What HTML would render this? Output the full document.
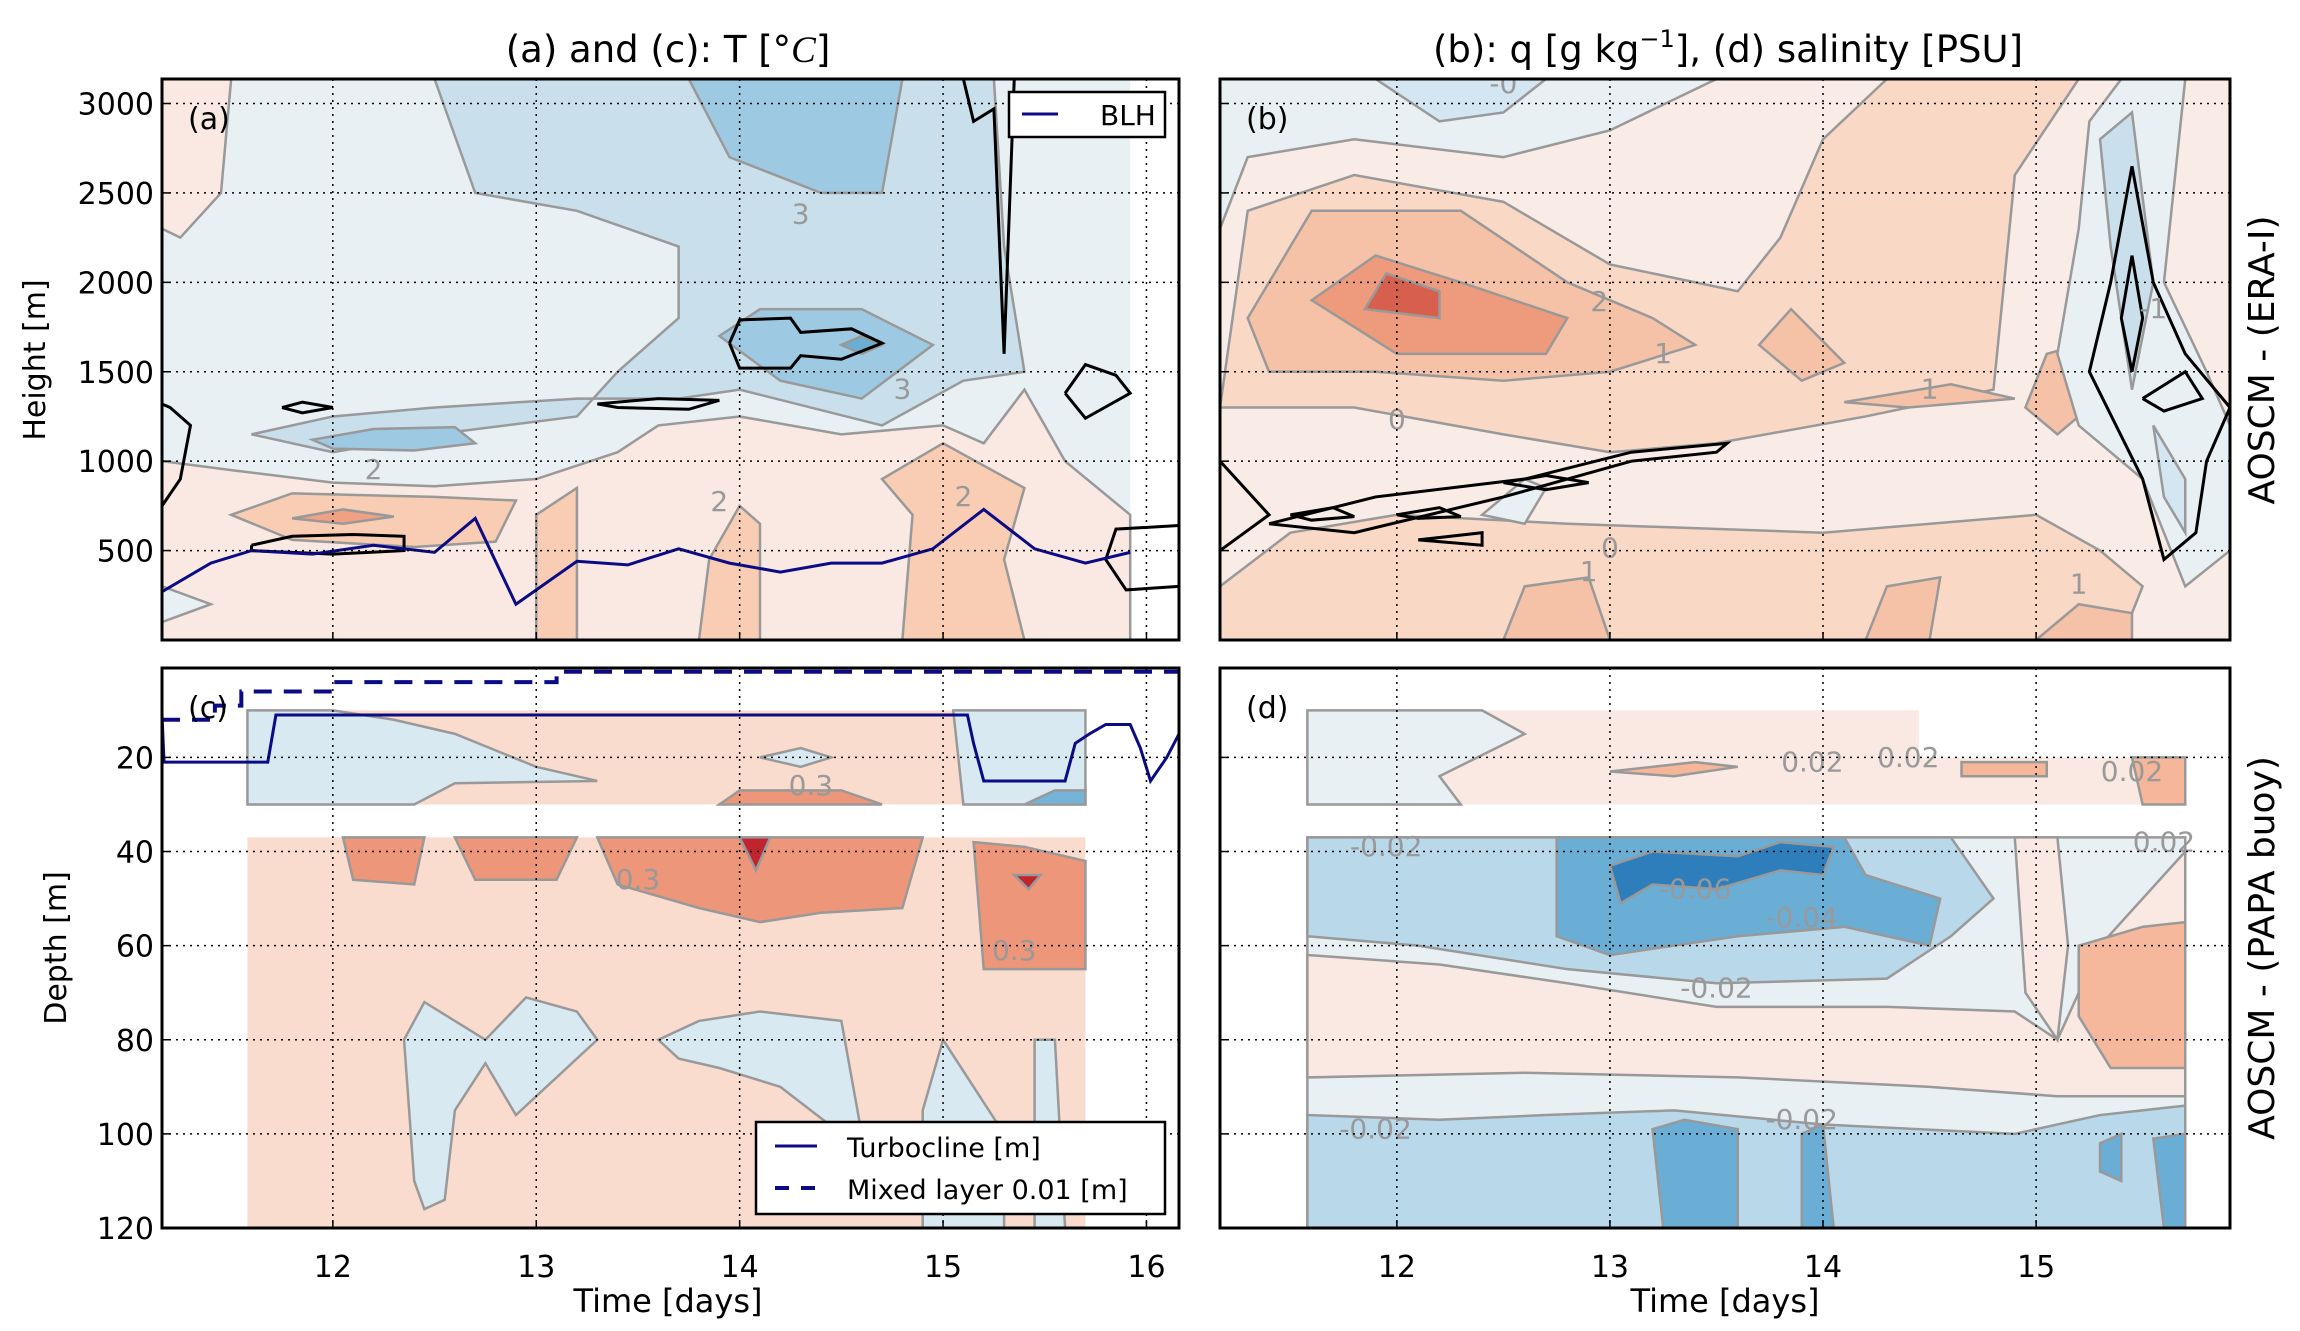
<!DOCTYPE html>
<html><head><meta charset="utf-8"><style>
html,body{margin:0;padding:0;background:#fff}
svg{display:block}
text{font-family:"DejaVu Sans","Liberation Sans",sans-serif}
</style></head><body>
<svg id="fig" width="2300" height="1331" viewBox="0 0 2300 1331" xmlns="http://www.w3.org/2000/svg">
<text x="668" y="62" font-size="37" text-anchor="middle">(a) and (c): T [°<tspan font-style="italic" font-family="Liberation Serif">C</tspan>]</text>
<text x="1728" y="62" font-size="37" text-anchor="middle">(b): q [g kg<tspan font-size="24" dy="-15">−1</tspan><tspan dy="15">], (d) salinity [PSU]</tspan></text>
<text transform="translate(2274,360) rotate(-90)" font-size="36" text-anchor="middle">AOSCM - (ERA-I)</text>
<text transform="translate(2274,948) rotate(-90)" font-size="36" text-anchor="middle">AOSCM - (PAPA buoy)</text>
<text transform="translate(45,360) rotate(-90)" font-size="30" text-anchor="middle">Height [m]</text>
<text transform="translate(66,948) rotate(-90)" font-size="30" text-anchor="middle">Depth [m]</text>
<text x="668" y="1312" font-size="32" text-anchor="middle">Time [days]</text>
<text x="1725" y="1312" font-size="32" text-anchor="middle">Time [days]</text>
<g id="layers"></g>
</svg>
<script>
// ---- data (days, metres) ----
const xTicksLeft=[12,13,14,15,16];
const xTicksRight=[12,13,14,15];
const hTicks=[500,1000,1500,2000,2500,3000];
const dTicks=[20,40,60,80,100,120];
const aFills=[
 ["#e8f0f4",[[11.16,0],[11.16,3137],[15.92,3137],[15.92,0]]],
 ["#f9e9e2",[[11.16,0],[11.16,1000],[11.5,950],[12,880],[12.5,860],[13,900],[13.4,1050],[13.6,1200],[14,1250],[14.5,1150],[15,1200],[15.2,1100],[15.4,1400],[15.6,1000],[15.92,700],[15.92,0]]],
 ["#f9e9e2",[[11.16,1500],[11.16,3137],[11.5,3137],[11.45,2500],[11.25,2250],[11.16,2300]]],
 ["#e8f0f4",[[11.16,0],[11.16,100],[11.4,200],[11.16,300]]],
 ["#c9e0ec",[[12.5,3137],[12.7,2500],[13.2,2400],[13.7,2200],[13.7,1800],[13.4,1500],[13.2,1250],[12.5,1150],[12,1050],[11.6,1150],[12,1250],[12.5,1300],[13.2,1350],[13.7,1350],[14,1400],[14.7,1200],[15.1,1450],[15.4,1500],[15.3,2200],[15.25,3137]]],
 ["#9dcae2",[[13.75,3137],[13.95,2700],[14.4,2500],[14.7,2500],[14.8,3137]]],
 ["#9dcae2",[[13.9,1700],[14.1,1850],[14.6,1850],[14.95,1650],[14.6,1350],[14.2,1450]]],
 ["#9dcae2",[[11.9,1120],[12.2,1180],[12.6,1190],[12.7,1100],[12.4,1060],[12,1070]]],
 ["#6aaed6",[[14.5,1650],[14.6,1700],[14.7,1650],[14.6,1600]]],
 ["#f8cdb4",[[11.5,700],[11.8,820],[12.5,800],[12.9,780],[12.8,550],[12.4,520],[11.8,560]]],
 ["#f8cdb4",[[13.0,0],[13.0,700],[13.2,850],[13.2,0]]],
 ["#f8cdb4",[[13.8,0],[13.85,450],[14.0,750],[14.1,650],[14.1,0]]],
 ["#f8cdb4",[[14.8,0],[14.85,700],[14.7,900],[15.0,1100],[15.4,850],[15.3,450],[15.4,0]]],
 ["#f0a083",[[11.8,680],[12.05,730],[12.3,690],[12.05,650]]]
];
const aBlack=[
 [[11.75,1300],[11.85,1330],[12.0,1300],[11.85,1270],[11.75,1300]],
 [[13.3,1320],[13.6,1350],[13.9,1340],[13.75,1290],[13.4,1300],[13.3,1320]],
 [[13.95,1660],[14.0,1790],[14.25,1800],[14.3,1720],[14.55,1740],[14.7,1660],[14.5,1570],[14.3,1590],[14.25,1520],[14.0,1520],[13.95,1660]],
 [[11.6,530],[11.8,580],[12.1,590],[12.35,580],[12.35,500],[12.0,480],[11.6,500],[11.6,530]],
 [[15.1,3137],[15.15,2900],[15.25,2970],[15.3,1600],[15.35,3137]],
 [[15.6,1380],[15.7,1540],[15.85,1480],[15.92,1380],[15.7,1240],[15.6,1380]],
 [[16.16,300],[15.9,280],[15.8,450],[15.85,620],[16.16,640]],
 [[11.16,750],[11.25,900],[11.3,1200],[11.2,1300],[11.16,1320]]
];
const blhX=[11.16,11.4,11.6,11.9,12.2,12.5,12.7,12.9,13.2,13.45,13.7,13.95,14.2,14.45,14.7,14.95,15.2,15.45,15.7,15.92];
const blhY=[270,430,500,480,530,490,680,200,440,420,510,430,380,430,430,510,730,510,430,490];
const cFills=[
 ["#fadcce",[[11.58,37],[11.58,120],[15.7,120],[15.7,37]]],
 ["#fadcce",[[11.58,10],[11.58,30],[15.7,30],[15.7,10]]],
 ["#d9e9f2",[[11.58,10],[11.58,30],[12.4,30],[12.6,25.5],[13.3,25],[13.0,22],[12.6,15],[12.3,12],[12.0,10]]],
 ["#d9e9f2",[[15.05,10],[15.1,30],[15.7,30],[15.7,10]]],
 ["#d9e9f2",[[14.1,20],[14.3,18],[14.45,20],[14.3,22]]],
 ["#ed9679",[[12.05,37],[12.1,46],[12.4,47],[12.45,37]]],
 ["#ed9679",[[12.6,37],[12.7,46],[13.1,46],[13.2,37]]],
 ["#ed9679",[[13.3,37],[13.4,47],[13.8,52],[14.1,55],[14.4,53],[14.8,52],[14.9,37]]],
 ["#ed9679",[[13.9,30],[14.0,27],[14.5,27],[14.7,30]]],
 ["#ed9679",[[15.15,38],[15.2,65],[15.7,65],[15.7,42],[15.4,39]]],
 ["#c0242e",[[14.0,37],[14.08,44],[14.15,37]]],
 ["#c0242e",[[15.35,45],[15.42,48],[15.48,45]]],
 ["#d9e9f2",[[12.35,80],[12.45,72],[12.75,80],[12.95,71],[13.2,74],[13.3,80],[13.05,90],[12.9,96],[12.75,85],[12.6,95],[12.55,114],[12.45,116],[12.4,110]]],
 ["#d9e9f2",[[13.6,80],[13.8,76],[14.1,74],[14.5,76],[14.6,100],[14.5,100],[14.2,90],[13.9,86],[13.7,84]]],
 ["#d9e9f2",[[14.9,95],[15.0,80],[15.15,90],[15.3,100],[15.3,120],[14.9,120]]],
 ["#d9e9f2",[[15.45,80],[15.55,80],[15.6,120],[15.45,120]]],
 ["#74b4d8",[[15.4,30],[15.55,27],[15.7,27],[15.7,30]]]
];
const turbX=[11.16,11.17,11.68,11.72,15.12,15.15,15.2,15.6,15.65,15.72,15.8,15.92,15.97,16.02,16.1,16.16];
const turbY=[11,21,21,11,11,17,25,25,17,15,13,13,18,25,20,15];
const mixX=[11.16,11.42,11.42,11.55,11.55,12.0,12.0,13.1,13.1,16.16];
const mixY=[12,12,9,9,6,6,4,4,1.8,1.8];
const bFills=[
 ["#f9ebe5",[[11.17,0],[11.17,3137],[15.91,3137],[15.91,0]]],
 ["#e8f0f4",[[11.17,2300],[11.17,3137],[13.5,3137],[13.0,2850],[12.5,2700],[11.8,2800],[11.3,2700]]],
 ["#d3e6f1",[[11.9,3137],[12.2,2900],[12.5,2950],[12.7,3137]]],
 ["#f9d8c6",[[11.17,1300],[11.3,2400],[11.8,2600],[12.5,2450],[13.0,2100],[13.6,1950],[13.8,2250],[14.0,2800],[14.3,3137],[15.2,3137],[14.9,2600],[14.8,1400],[14.2,1250],[13.5,1100],[13.0,1050],[12.5,1150],[11.8,1300]]],
 ["#f9d8c6",[[11.5,600],[12.0,700],[12.8,650],[14.0,600],[15.0,700],[15.3,500],[15.5,300],[15.4,0],[11.17,0],[11.17,300]]],
 ["#f6c2a7",[[11.3,1800],[11.6,2400],[12.3,2400],[12.8,2000],[13.2,1800],[13.4,1650],[13.0,1500],[12.5,1450],[11.9,1500],[11.4,1500]]],
 ["#f6c2a7",[[13.7,1650],[13.85,1850],[14.1,1550],[13.9,1450]]],
 ["#f6c2a7",[[14.1,1330],[14.6,1430],[14.9,1350],[14.4,1300]]],
 ["#f6c2a7",[[14.95,1300],[15.05,1600],[15.2,1650],[15.25,1300],[15.1,1150]]],
 ["#f6c2a7",[[12.5,0],[12.6,300],[12.9,350],[13.0,0]]],
 ["#f6c2a7",[[14.2,0],[14.3,300],[14.55,350],[14.5,0]]],
 ["#f6c2a7",[[15.0,0],[15.2,200],[15.45,150],[15.45,0]]],
 ["#ee9a7c",[[11.6,1900],[11.9,2150],[12.3,2000],[12.8,1800],[12.7,1600],[12.0,1600]]],
 ["#d6604d",[[11.85,1850],[11.95,2050],[12.2,1950],[12.2,1800]]],
 ["#e8f0f4",[[15.25,2900],[15.4,3137],[15.7,3137],[15.6,2000],[15.8,1500],[15.91,1200],[15.91,500],[15.7,300],[15.5,900],[15.2,1200],[15.1,1600],[15.2,2300]]],
 ["#c9e0ec",[[15.3,2800],[15.45,2950],[15.55,2000],[15.45,1400],[15.35,2200]]],
 ["#d3e6f1",[[15.55,1200],[15.7,900],[15.7,600],[15.6,800]]],
 ["#e8f0f4",[[12.4,700],[12.6,900],[12.7,850],[12.6,650]]]
];
const bBlack=[
 [[11.17,1000],[11.4,700],[11.17,500]],
 [[11.4,650],[11.9,800],[12.6,900],[13.1,1050],[13.55,1100],[13.5,1050],[13.1,1000],[12.5,800],[11.8,600],[11.4,650]],
 [[11.5,700],[11.7,740],[11.8,690],[11.6,670],[11.5,700]],
 [[12.0,700],[12.2,740],[12.3,690],[12.1,680],[12.0,700]],
 [[12.5,880],[12.7,920],[12.9,880],[12.7,840],[12.5,880]],
 [[12.1,560],[12.4,600],[12.4,530],[12.1,560]],
 [[15.45,2650],[15.35,2000],[15.25,1500],[15.5,900],[15.6,450],[15.75,600],[15.8,1000],[15.91,1300],[15.7,1600],[15.55,2000],[15.45,2650]],
 [[15.45,2150],[15.4,1800],[15.45,1500],[15.5,1800],[15.45,2150]],
 [[15.5,1350],[15.7,1500],[15.78,1350],[15.6,1280],[15.5,1350]]
];
const dFills=[
 ["#f9e9e2",[[11.58,10],[11.58,30],[15.7,30],[15.7,20],[14.45,20],[14.45,10]]],
 ["#e8f0f4",[[11.58,10],[11.58,30],[12.3,30],[12.2,24],[12.6,15],[12.4,10]]],
 ["#f5b699",[[13.0,23],[13.4,21],[13.6,22],[13.3,24]]],
 ["#f5b699",[[14.65,21],[15.05,21],[15.05,24],[14.65,24]]],
 ["#f5b699",[[15.45,20],[15.7,20],[15.7,30],[15.5,30]]],
 ["#e8f0f4",[[11.58,37],[11.58,120],[15.7,120],[15.7,37]]],
 ["#f9e9e2",[[11.58,62],[12.2,64],[12.8,68],[13.5,73],[14.3,73],[14.9,74],[15.1,80],[15.3,60],[15.7,40],[15.7,92],[15.1,92],[14.5,90],[13.6,88],[12.6,87],[11.58,88]]],
 ["#f9e9e2",[[14.9,37],[15.1,37],[15.15,60],[15.1,80],[14.95,70]]],
 ["#f6b89c",[[15.2,60],[15.5,56],[15.7,55],[15.7,86],[15.35,86],[15.2,75]]],
 ["#b9d8ea",[[11.58,37],[11.58,58],[12.1,60],[12.8,65],[13.5,68],[14.3,67],[14.6,58],[14.8,50],[14.6,37]]],
 ["#b9d8ea",[[11.58,96],[11.58,120],[15.7,120],[15.7,94],[15.3,96],[14.9,100],[14.0,98],[13.3,95],[12.7,96],[12.2,97]]],
 ["#6aaed6",[[12.75,37],[12.75,58],[13.0,62],[13.6,58],[14.1,56],[14.5,60],[14.55,50],[14.2,45],[14.1,37]]],
 ["#6aaed6",[[13.2,99],[13.35,97],[13.6,99],[13.6,120],[13.25,120]]],
 ["#6aaed6",[[13.9,100],[14.0,98],[14.05,120],[13.9,120]]],
 ["#6aaed6",[[15.55,101],[15.7,100],[15.7,120],[15.6,120]]],
 ["#6aaed6",[[15.3,102],[15.4,100],[15.4,110],[15.3,108]]],
 ["#2f7ebc",[[13.0,43],[13.2,40],[13.6,41],[13.8,38],[14.05,39],[14.0,45],[13.8,44],[13.5,48],[13.2,47],[13.05,51]]]
];
const cLabels=[[14.35,28,"0.3"],[13.5,48,"0.3"],[15.35,63,"0.3"]];
const dLabels=[[11.95,41,"-0.02"],[13.4,50,"-0.06"],[13.9,56,"-0.04"],[13.5,71,"-0.02"],[11.9,101,"-0.02"],[13.9,99,"-0.02"],[13.95,23,"0.02"],[14.4,22,"0.02"],[15.45,25,"0.02"],[15.6,40,"0.02"]];
const aLabels=[[14.3,2330,"3"],[14.8,1350,"3"],[12.2,900,"2"],[13.9,720,"2"],[15.1,750,"2"]];
const bLabels=[[12.5,3060,"-0"],[12.95,1840,"2"],[13.25,1550,"1"],[14.5,1350,"1"],[12.0,1180,"0"],[13.0,460,"0"],[12.9,330,"1"],[15.2,260,"1"],[15.55,1800,"-1"]];

const NS="http://www.w3.org/2000/svg";
const root=document.getElementById('layers');
function el(tag,attrs,parent){const e=document.createElementNS(NS,tag);for(const k in attrs)e.setAttribute(k,attrs[k]);(parent||root).appendChild(e);return e;}
function panel(name,x0,x1,d0,d1,px0,px1,py0,py1,yDown){
  const sx=d=>px0+(d-x0)/(x1-x0)*(px1-px0);
  const sy=v=> yDown? py0+(v-d0)/(d1-d0)*(py1-py0) : py1-(v-d0)/(d1-d0)*(py1-py0);
  const g=el('g',{});
  
  
  const cid='clip-'+name;
  const cp=el('clipPath',{id:cid},g);el('rect',{x:px0,y:py0,width:px1-px0,height:py1-py0},cp);
  const inner=el('g',{'clip-path':'url(#'+cid+')'},g);
  return {sx,sy,g,inner,px0,px1,py0,py1};
}
function fills(P,arr,edge){arr.forEach(([c,pts])=>{const p=el('polygon',{points:pts.map(q=>P.sx(q[0])+','+P.sy(q[1])).join(' '),fill:c,stroke:edge?'#999':'none','stroke-width':edge?2.5:0},P.inner);
 
 });}
function lines(P,arr,col,w,dash){arr.forEach(pts=>{const p=el('polyline',{points:pts.map(q=>P.sx(q[0])+','+P.sy(q[1])).join(' '),fill:'none',stroke:col,'stroke-width':w,'stroke-dasharray':dash||'none'},P.inner);
 
 });}
function labels(P,arr){arr.forEach(([x,y,t])=>{const e=el('text',{x:P.sx(x),y:P.sy(y),'font-size':28,fill:'#999','text-anchor':'middle'},P.inner);e.textContent=t;
 
 });}
function grid(P,xt,yt,lbX,lbY){
  xt.forEach(t=>{const x=P.sx(t);el('line',{x1:x,x2:x,y1:P.py0,y2:P.py1,stroke:'#000','stroke-width':1.5,'stroke-dasharray':'2,5'},P.g);
    el('line',{x1:x,x2:x,y1:P.py1,y2:P.py1-8,stroke:'#000','stroke-width':1.5},P.g);
    if(lbX){const e=el('text',{x:x,y:1277,'font-size':30,'text-anchor':'middle'},P.g);e.textContent=t;
    
    }});
  yt.forEach(t=>{const y=P.sy(t);if(y<P.py0-1||y>P.py1+1)return;el('line',{x1:P.px0,x2:P.px1,y1:y,y2:y,stroke:'#000','stroke-width':1.5,'stroke-dasharray':'2,5'},P.g);
    el('line',{x1:P.px0,x2:P.px0+8,y1:y,y2:y,stroke:'#000','stroke-width':1.5},P.g);
    if(lbY){const e=el('text',{x:P.px0-8,y:y+11,'font-size':30,'text-anchor':'end'},P.g);e.textContent=t;
    
    }});
  el('rect',{x:P.px0,y:P.py0,width:P.px1-P.px0,height:P.py1-P.py0,fill:'none',stroke:'#000','stroke-width':3},P.g);
}
function tag(P,t){const e=el('text',{x:P.px0+26,y:P.py0+50,'font-size':30},P.g);e.textContent=t;
 
 }

const A=panel('panel-a',11.16,16.16,0,3137,162,1179,79,640,false);
fills(A,aFills.slice(0,1),false);fills(A,aFills.slice(1),true);
lines(A,aBlack,'#000',3);
labels(A,aLabels);
const blh=el('polyline',{points:blhX.map((x,i)=>A.sx(x)+','+A.sy(blhY[i])).join(' '),fill:'none',stroke:'#0b0b85','stroke-width':3},A.inner);


grid(A,xTicksLeft,hTicks,false,true);tag(A,'(a)');
const lg=el('g',{},A.g);
el('rect',{x:1009,y:92,width:156,height:45,fill:'#fff',stroke:'#000','stroke-width':2.5},lg);
el('line',{x1:1022,x2:1058,y1:114,y2:114,stroke:'#0b0b85','stroke-width':3},lg);
const lt=el('text',{x:1100,y:125,'font-size':28},lg);lt.textContent='BLH';

const C=panel('panel-c',11.16,16.16,1,120,162,1179,668,1228,true);
fills(C,cFills.slice(0,2),false);fills(C,cFills.slice(2),true);
labels(C,cLabels);
const tb=el('polyline',{points:turbX.map((x,i)=>C.sx(x)+','+C.sy(turbY[i])).join(' '),fill:'none',stroke:'#0b0b85','stroke-width':3},C.inner);


const ml=el('polyline',{points:mixX.map((x,i)=>C.sx(x)+','+C.sy(mixY[i])).join(' '),fill:'none',stroke:'#0b0b85','stroke-width':4,'stroke-dasharray':'18,12'},C.inner);


grid(C,xTicksLeft,dTicks,true,true);tag(C,'(c)');
const lg2=el('g',{},C.g);
el('rect',{x:756,y:1122,width:409,height:92,fill:'#fff',stroke:'#000','stroke-width':2.5},lg2);
el('line',{x1:775,x2:817,y1:1146,y2:1146,stroke:'#0b0b85','stroke-width':3},lg2);
el('line',{x1:775,x2:817,y1:1188,y2:1188,stroke:'#0b0b85','stroke-width':4,'stroke-dasharray':'14,12'},lg2);
let t1=el('text',{x:847,y:1157,'font-size':27},lg2);t1.textContent='Turbocline [m]';
let t2=el('text',{x:847,y:1199,'font-size':27},lg2);t2.textContent='Mixed  layer 0.01 [m]';

const B=panel('panel-b',11.17,15.91,0,3137,1220,2230,79,640,false);
fills(B,bFills.slice(0,1),false);fills(B,bFills.slice(1),true);
lines(B,bBlack,'#000',3);labels(B,bLabels);
grid(B,xTicksRight,hTicks,false,false);tag(B,'(b)');

const D=panel('panel-d',11.17,15.91,1,120,1220,2230,668,1228,true);
fills(D,dFills.slice(0,1),false);fills(D,dFills.slice(1),true);
labels(D,dLabels);
grid(D,xTicksRight,dTicks,true,false);tag(D,'(d)');
</script>
</body></html>
